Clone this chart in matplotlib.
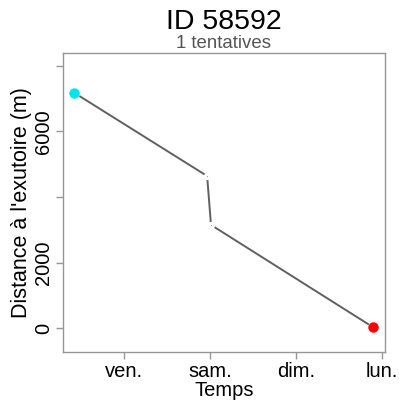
import numpy as np
import matplotlib
matplotlib.use("Agg")
import matplotlib.pyplot as plt
import matplotlib.dates as mdates
from datetime import datetime

plt.rcParams['font.family'] = ['Liberation Sans', 'DejaVu Sans']

# data
times = ["2021-01-07 09:55", "2021-01-08 23:10", "2021-01-09 00:15", "2021-01-10 21:30"]
distance = [7180, 4640, 3150, 40]
tick_days = ["2021-01-08", "2021-01-09", "2021-01-10", "2021-01-11"]
tick_labels = ["ven.", "sam.", "dim.", "lun."]
y_ticks = [0, 2000, 4000, 6000, 8000]
y_labels = ["0", "2000", "", "6000", ""]

t = mdates.date2num([datetime.strptime(s, "%Y-%m-%d %H:%M") for s in times])
td = mdates.date2num([datetime.strptime(s, "%Y-%m-%d") for s in tick_days])

fig = plt.figure(figsize=(3.99, 4.03), dpi=100)
ax = fig.add_axes([0.158, 0.1266, 0.807, 0.742])

line_col = "#606060"
ax.plot(t, distance, color=line_col, lw=1.4, zorder=2)
# R type="b": points with small gaps in the line
ax.plot(t[1:-1], distance[1:-1], 'o', ms=3.0, mfc="#8a8a8a", mec="white", mew=2.2, zorder=3)
ax.plot(t[0], distance[0], 'o', ms=6.5, mfc="#00e5ee", mec="white", mew=1.5, zorder=4)
ax.plot(t[-1], distance[-1], 'o', ms=6.5, mfc="#ff0000", mec="white", mew=1.5, zorder=4)
ax.plot(t[0], distance[0], 'o', ms=6.5, color="#00e5ee", zorder=5)
ax.plot(t[-1], distance[-1], 'o', ms=6.5, color="#ff0000", zorder=5)

ax.set_xlim(td[0] - 0.715, td[0] + 3.04)
ax.set_ylim(-722, 8390)

ax.set_xticks(td)
ax.set_xticklabels(tick_labels, fontsize=14.5)
ax.set_yticks(y_ticks)
ax.set_yticklabels(y_labels, fontsize=14.5, rotation=90, va="center")

for s in ax.spines.values():
    s.set_color("#969696")
    s.set_linewidth(1.0)
ax.tick_params(axis="both", color="#969696", length=5, width=1.0, pad=2)

ax.set_xlabel("Temps", fontsize=14.5, labelpad=0)
ax.set_ylabel("Distance à l'exutoire (m)", fontsize=15.5, labelpad=2)

fig.text(0.561, 0.945, "ID 58592", ha="center", va="center", fontsize=20.5)
fig.text(0.561, 0.893, "1 tentatives", ha="center", va="center", fontsize=13.4, color="#555555")

fig.savefig("out.png", dpi=100)
